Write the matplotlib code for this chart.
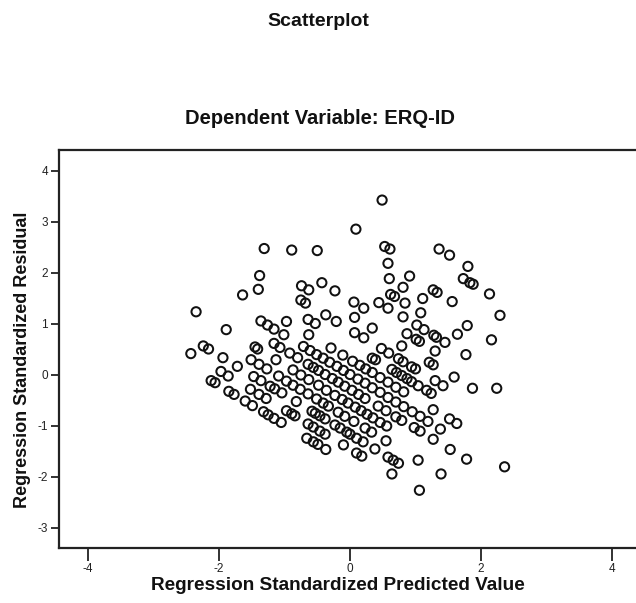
import matplotlib
matplotlib.use("Agg")
import matplotlib.pyplot as plt

plt.rcParams['font.family'] = ['Liberation Sans', 'DejaVu Sans']

# Regression standardized predicted values (x) and standardized residuals (y)
predicted = [
    -2.12, -2.06, -1.85, -1.77, -1.60, -1.49, -1.32, -1.25, -1.16, -1.05, -0.66, -0.56, -0.49, -0.37,
    -2.43, -1.97, -1.86, -1.52, -1.39, -1.28, -0.97, -0.89, -0.84, -0.64, -0.56, -0.46, -0.38, -0.10,
    0.10, 0.18, 0.64, 1.06,
    -2.24, -2.16, -1.94, -1.72, -1.47, -1.36, -1.22, -1.15, -1.04, -0.82, -0.58, -0.53, -0.46, -0.38,
    -0.23, -0.15, -0.05, 0.00, 0.10, 0.20, 0.38, 0.58, 0.66, 0.74,
    -1.51, -1.39, -1.27, -1.09, -0.97, -0.87, -0.76, -0.64, -0.51, -0.41, -0.33, -0.18, -0.08, 0.06,
    0.23, 0.33, 0.55, 1.04, 1.39,
    -2.35, -1.89, -1.45, -1.41, -1.13, -0.87, -0.75, -0.63, -0.48, -0.36, -0.23, -0.12, -0.03, 0.08,
    0.17, 0.26, 0.35, 0.46, 0.56,
    -1.16, -1.07, -0.92, -0.80, -0.64, -0.56, -0.48, -0.38, -0.27, -0.18, -0.08, 0.03, 0.13, 0.23,
    0.43, 0.55, 0.70, 0.79, 0.98, 1.07, 1.27, 1.53, 1.78,
    -1.36, -1.26, -1.16, -1.01, -0.71, -0.61, -0.51, -0.41, -0.31, -0.20, -0.10, 0.00, 0.12, 0.23,
    0.34, 0.46, 0.58, 0.70, 0.82, 0.95, 1.07, 1.19, 1.38, 2.36,
    -1.64, -0.97, -0.63, -0.29, -0.11, 0.04, 0.15, 0.24, 0.34, 0.46, 0.58, 0.70, 0.82, 1.27, 1.52, 1.63,
    -1.40, -0.64, -0.53, 0.34, 0.39, 0.64, 0.71, 0.79, 0.87, 0.94, 1.04, 1.17, 1.24,
    -1.38, -0.75, -0.68, -0.37, -0.21, 0.07, 0.21, 0.48, 0.59, 0.74, 0.81, 0.94, 1.00, 1.30, 1.42,
    -0.74, -0.63, 0.07, 0.34, 0.79, 1.21, 1.27, 1.59, 1.87,
    -1.31, -0.43, -0.23, 0.06, 0.21, 0.87, 1.01, 1.06, 1.30, 2.24,
    -0.89, 0.44, 0.58, 0.81, 1.02, 1.13, 1.28, 1.32, 1.45, 1.77,
    -0.50, 0.62, 0.68, 0.84, 1.08, 1.64,
    0.60, 0.81, 1.11, 1.79, 2.16,
    0.58, 0.91, 1.27, 1.33, 1.56,
    0.09, 0.53, 0.61, 2.29,
    1.73, 1.83, 1.88, 2.13,
    1.36, 1.52, 1.80,
    0.49,
]
residual = [
    -0.12, -0.16, -0.33, -0.39, -0.52, -0.61, -0.73, -0.79, -0.86, -0.94, -1.25, -1.32, -1.37, -1.47,
    0.41, 0.06, -0.03, -0.29, -0.39, -0.47, -0.71, -0.77, -0.81, -0.97, -1.03, -1.11, -1.17, -1.38,
    -1.54, -1.60, -1.95, -2.27,
    0.56, 0.50, 0.33, 0.16, -0.04, -0.12, -0.23, -0.28, -0.36, -0.53, -0.72, -0.76, -0.81, -0.87,
    -0.99, -1.05, -1.13, -1.17, -1.25, -1.32, -1.46, -1.62, -1.68, -1.74,
    0.29, 0.20, 0.11, -0.03, -0.13, -0.21, -0.29, -0.38, -0.48, -0.56, -0.62, -0.74, -0.82, -0.92,
    -1.05, -1.13, -1.30, -1.68, -1.95,
    1.23, 0.88, 0.54, 0.50, 0.29, 0.09, -0.01, -0.10, -0.21, -0.31, -0.41, -0.49, -0.56, -0.64,
    -0.71, -0.78, -0.85, -0.94, -1.01,
    0.61, 0.53, 0.42, 0.33, 0.20, 0.14, 0.08, 0.00, -0.08, -0.15, -0.23, -0.31, -0.39, -0.47,
    -0.62, -0.71, -0.83, -0.90, -1.04, -1.11, -1.27, -1.47, -1.66,
    1.05, 0.97, 0.89, 0.78, 0.55, 0.47, 0.39, 0.32, 0.24, 0.16, 0.08, 0.00, -0.09, -0.17,
    -0.26, -0.35, -0.45, -0.54, -0.63, -0.73, -0.82, -0.92, -1.07, -1.81,
    1.56, 1.04, 0.78, 0.52, 0.38, 0.26, 0.18, 0.11, 0.04, -0.06, -0.15, -0.25, -0.34, -0.69, -0.87, -0.96,
    1.67, 1.08, 1.00, 0.32, 0.29, 0.10, 0.04, -0.02, -0.08, -0.14, -0.22, -0.31, -0.37,
    1.94, 1.46, 1.40, 1.17, 1.04, 0.82, 0.72, 0.51, 0.42, 0.31, 0.25, 0.15, 0.11, -0.12, -0.22,
    1.74, 1.66, 1.12, 0.91, 0.56, 0.24, 0.19, -0.05, -0.27,
    2.47, 1.80, 1.64, 1.42, 1.30, 0.80, 0.69, 0.65, 0.46, -0.27,
    2.44, 1.41, 1.30, 1.13, 0.97, 0.88, 0.77, 0.73, 0.63, 0.39,
    2.43, 1.57, 1.53, 1.40, 1.21, 0.79,
    1.88, 1.71, 1.49, 0.96, 0.68,
    2.18, 1.93, 1.66, 1.61, 1.43,
    2.85, 2.51, 2.46, 1.16,
    1.88, 1.80, 1.77, 1.58,
    2.46, 2.34, 2.12,
    3.42,
]

x_ticks = [-4, -2, 0, 2, 4]
y_ticks = [-3, -2, -1, 0, 1, 2, 3, 4]

fig = plt.figure(figsize=(6.36, 6.03), dpi=100)
fig.patch.set_facecolor('white')

# plot frame runs off the right edge of the page
ax = fig.add_axes([59 / 636, 55.5 / 603, 582 / 636, 397.5 / 603])
ax.scatter(predicted, residual, s=44, facecolors='none', edgecolors='#111111',
           linewidths=1.45, zorder=3)

ax.set_xlim(-4.443, 4.443)
ax.set_ylim(-3.392, 4.402)
ax.set_xticks(x_ticks)
ax.set_yticks(y_ticks)
ax.set_xticklabels([str(v) for v in x_ticks])
ax.set_yticklabels([str(v) for v in y_ticks])
ax.tick_params(axis='x', direction='out', length=9, width=1.3, labelsize=8.5,
               pad=2, colors='#222222')
ax.tick_params(axis='y', direction='out', length=6, width=1.3, labelsize=8.5,
               pad=2, colors='#222222')
for sp in ax.spines.values():
    sp.set_linewidth(1.6)
    sp.set_color('#222222')

ax.set_xlabel('Regression Standardized Predicted Value', fontsize=13.7,
              fontweight='bold', color='#111111')
ax.set_ylabel('Regression Standardized Residual', fontsize=13,
              fontweight='bold', color='#111111')
ax.xaxis.set_label_coords(0.479, -0.074)
ax.yaxis.set_label_coords(-0.048, 0.472)

fig.text(0.5, 1 - 22 / 603, 'Scatterplot', ha='center', va='center',
         fontsize=14, fontweight='bold', color='#111111')
fig.text(0.503, 1 - 118 / 603, 'Dependent Variable: ERQ-ID', ha='center',
         va='center', fontsize=14.5, fontweight='bold', color='#111111')

fig.savefig('out.png', dpi=100, facecolor='white')
